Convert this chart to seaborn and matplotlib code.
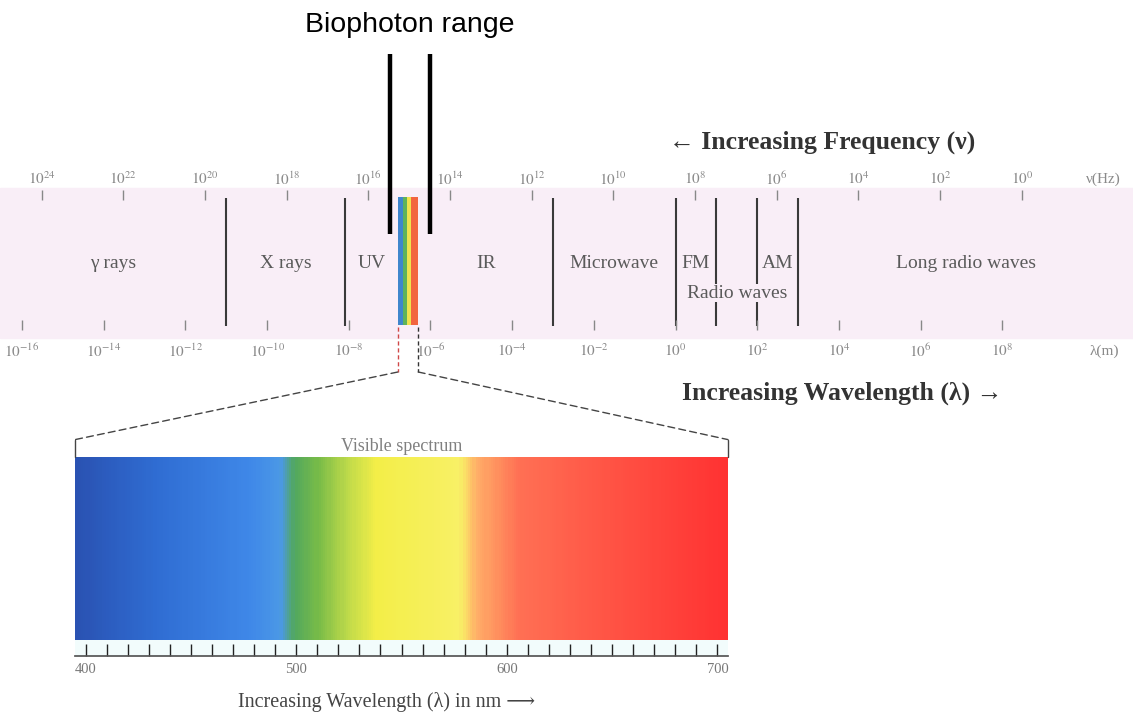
import numpy as np
import pandas as pd
import matplotlib.pyplot as plt
import seaborn as sns
from matplotlib.colors import LinearSegmentedColormap
from matplotlib.patches import ConnectionPatch
from matplotlib.ticker import MultipleLocator, FuncFormatter

# --- data: x positions are log10(wavelength in m) ---
band_names = ['γ rays', 'X rays', 'UV', 'IR', 'Microwave', 'FM', 'AM', 'Long radio waves']
band_lo = [-16.54, -11, -8.1, -6.3, -3, 0, 2, 3]
band_hi = [-11, -8.1, -6.8, -3, 0, 1, 3, 11.2]
dividers = [-11, -8.1, -3, 0, 1, 2, 3]
radio_lo, radio_hi = 0, 3

wl_exps = list(range(-16, 9, 2))          # wavelength ticks, 10^n m
freq_exps = list(range(24, -1, -2))       # frequency ticks, 10^n Hz
c_log = np.log10(3e8)                     # log10 of speed of light

vis_edges = [-6.8, -6.68, -6.58, -6.48, -6.3]
vis_strip_colors = ['#3f86cc', '#5fb35a', '#efe24c', '#f2653f']
biophoton = [-7, -6]

# visible spectrum gradient (nm, colour)
spec_nm = [395, 432, 478, 492, 499, 510, 524, 538, 578, 586, 606, 645, 705]
spec_colors = ['#2a52b2', '#2f6cd2', '#3f88e8', '#4b98e6', '#52a85e', '#78bb48',
               '#bcd94a', '#f3ee48', '#f8f066', '#ffae68', '#ff7054', '#ff5646', '#ff3232']
scale_labels = [400, 500, 600, 700]

sns.set_theme(style='white')
plt.rcParams['font.family'] = ['Liberation Serif', 'DejaVu Serif']
plt.rcParams['mathtext.fontset'] = 'stix'

fig = plt.figure(figsize=(11.33, 7.19), dpi=100)
ax = fig.add_axes([0, 0, 1, 1])
ax.set_xlim(band_lo[0], band_hi[-1])
ax.set_ylim(719, 0)
ax.axis('off')

band_col = '#f9eef7'
ax.axhspan(188, 338, color=band_col, zorder=0)

# divider lines
ax.vlines(dividers, 198, 326, color='#3a3a3a', lw=1.5, zorder=2)

# visible strip inside the band
for lo, hi, col in zip(vis_edges[:-1], vis_edges[1:], vis_strip_colors):
    ax.fill_between([lo, hi], 197, 325, color=col, lw=0, zorder=2)

# band labels
for name, lo, hi in zip(band_names, band_lo, band_hi):
    ax.text((lo + hi) / 2, 264, name, ha='center', va='center', fontsize=14,
            color='#5a5a5a', zorder=3)
ax.text((radio_lo + radio_hi) / 2, 293, 'Radio waves', ha='center', va='center',
        fontsize=14, color='#5a5a5a', zorder=3,
        bbox=dict(facecolor=band_col, edgecolor='none', pad=0.5))

# wavelength ticks (bottom) and frequency ticks (top)
tick_col = '#8a8a8a'
ax.vlines(wl_exps, 320, 330, color='#888888', lw=1)
for e in wl_exps:
    ax.text(e, 351, r'$10^{%d}$' % e, ha='center', va='center', fontsize=11, color=tick_col)
ax.text(wl_exps[-1] + 2.5, 351, 'λ(m)', ha='center', va='center', fontsize=11, color=tick_col)

freq_pos = [c_log - e for e in freq_exps]
ax.vlines(freq_pos, 190, 200, color='#888888', lw=1)
for p, e in zip(freq_pos, freq_exps):
    ax.text(p, 179, r'$10^{%d}$' % e, ha='center', va='center', fontsize=11, color=tick_col)
ax.text(freq_pos[-1] + 2.0, 179, 'ν(Hz)', ha='center', va='center', fontsize=11, color=tick_col)

# axis direction captions
ax.text(7.33, 142, '← Increasing Frequency (ν)', ha='right', va='center',
        fontsize=18.5, fontweight='bold', color='#333333')
ax.text(0.15, 393, 'Increasing Wavelength (λ) →', ha='left', va='center',
        fontsize=18.5, fontweight='bold', color='#333333')

# biophoton range
ax.vlines(biophoton, 54, 234, color='black', lw=3.2, zorder=4)
ax.text(np.mean(biophoton), 25, 'Biophoton range', ha='center', va='center',
        fontsize=20.5, family=['Liberation Sans', 'DejaVu Sans'], color='black')

# dashed drops below the visible strip
ax.vlines(vis_edges[0], 327, 372, color='#d04848', lw=1, linestyles=(0, (3, 2)))
ax.vlines(vis_edges[-1], 327, 372, color='#333333', lw=1, linestyles=(0, (3, 2)))

# --- visible spectrum bar ---
spec_ax = fig.add_axes([75 / 1133, 79 / 719, 653 / 1133, 183 / 719])
nm = np.arange(spec_nm[0], spec_nm[-1] + 1)
stops = [(v - spec_nm[0]) / (spec_nm[-1] - spec_nm[0]) for v in spec_nm]
cmap = LinearSegmentedColormap.from_list('visible', list(zip(stops, spec_colors)))
sns.heatmap(pd.DataFrame([nm]), cmap=cmap, vmin=spec_nm[0], vmax=spec_nm[-1],
            cbar=False, xticklabels=False, yticklabels=False, ax=spec_ax)

# bracket ends and connectors
for xa in [0, 1]:
    spec_ax.plot([xa, xa], [1, 1.095], transform=spec_ax.transAxes, clip_on=False,
                 color='#444444', lw=1)
for xv, xa in [(vis_edges[0], 0), (vis_edges[-1], 1)]:
    cp = ConnectionPatch(xyA=(xv, 372), coordsA=ax.transData,
                         xyB=(xa, 1.095), coordsB=spec_ax.transAxes,
                         color='#444444', lw=1, linestyle=(0, (5, 3)))
    fig.add_artist(cp)
spec_ax.text(0.5, 1.055, 'Visible spectrum', transform=spec_ax.transAxes,
             ha='center', va='center', fontsize=13, color='#808080')

# nm scale strip
scale_ax = fig.add_axes([75 / 1133, 63 / 719, 653 / 1133, 16 / 719])
scale_ax.set_xlim(spec_nm[0], spec_nm[-1])
scale_ax.set_ylim(0, 1)
scale_ax.set_facecolor('#f2fcfc')
for s in ['top', 'left', 'right']:
    scale_ax.spines[s].set_visible(False)
scale_ax.spines['bottom'].set_color('#555555')
scale_ax.set_yticks([])
scale_ax.xaxis.set_major_locator(MultipleLocator(10))
scale_ax.xaxis.set_major_formatter(
    FuncFormatter(lambda v, _: f'{int(round(v))}' if int(round(v)) in scale_labels else ''))
scale_ax.tick_params(axis='x', direction='in', length=9, width=1, color='#222222',
                     labelsize=10.5, labelcolor='#777777', pad=5, bottom=True)

fig.text(387 / 1133, 1 - 702 / 719, 'Increasing Wavelength (λ) in nm ⟶',
         ha='center', va='center', fontsize=14.5, color='#444444')

fig.savefig('out.png', dpi=100)
